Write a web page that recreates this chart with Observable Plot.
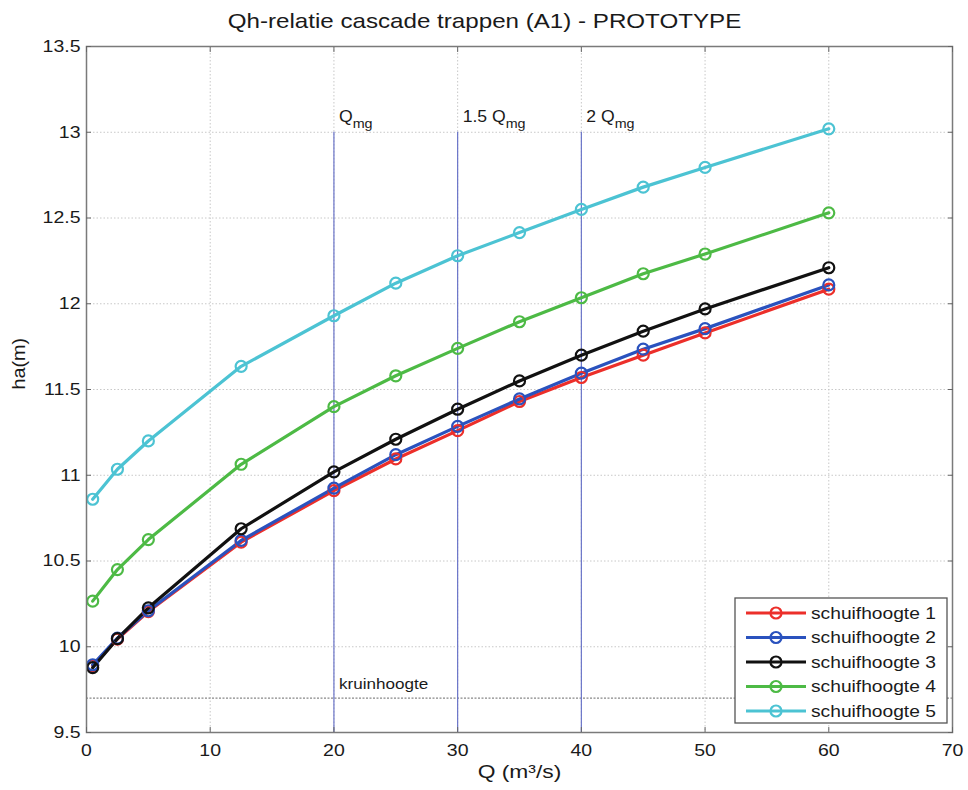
<!DOCTYPE html>
<html>
<head>
<meta charset="utf-8">
<script src="https://cdn.jsdelivr.net/npm/d3@7"></script>
<script src="https://cdn.jsdelivr.net/npm/@observablehq/plot@0.6"></script>
<style>
  html, body { margin: 0; padding: 0; background: #fff; }
</style>
</head>
<body>
<div id="chart"></div>
<script>
const title = "Qh-relatie cascade trappen (A1) - PROTOTYPE";
const xLabel = "Q (m³/s)";
const yLabel = "ha(m)";
const Q = [0.5, 2.5, 5, 12.5, 20, 25, 30, 35, 40, 45, 50, 60];
const h1 = [9.89, 10.045, 10.205, 10.61, 10.91, 11.095, 11.26, 11.43, 11.57, 11.70, 11.83, 12.085];
const h2 = [9.895, 10.05, 10.21, 10.62, 10.925, 11.12, 11.285, 11.445, 11.595, 11.735, 11.855, 12.11];
const h3 = [9.878, 10.047, 10.227, 10.688, 11.02, 11.21, 11.385, 11.55, 11.70, 11.84, 11.97, 12.21];
const h4 = [10.266, 10.45, 10.625, 11.064, 11.40, 11.58, 11.74, 11.895, 12.035, 12.175, 12.29, 12.53];
const h5 = [10.86, 11.035, 11.20, 11.635, 11.93, 12.12, 12.28, 12.415, 12.55, 12.68, 12.795, 13.02];
const seriesNames = ["schuifhoogte 1", "schuifhoogte 2", "schuifhoogte 3", "schuifhoogte 4", "schuifhoogte 5"];
const seriesColors = ["#ec2f2a", "#2a52be", "#111111", "#4dba45", "#4cc3d3"];
const seriesValues = [h1, h2, h3, h4, h5];
const xTicks = [0, 10, 20, 30, 40, 50, 60, 70];
const yTicks = [9.5, 10, 10.5, 11, 11.5, 12, 12.5, 13, 13.5];
const qmgX = [20, 30, 40];
const qmgPrefix = ["Q", "1.5 Q", "2 Q"];
const qmgTop = 13;
const crest = 9.7;
const crestLabel = "kruinhoogte";

const data = seriesValues.flatMap((vals, i) =>
  vals.map((v, j) => ({ series: seriesNames[i], Q: Q[j], h: v }))
);

const FONT = "'Liberation Sans', Arial, sans-serif";
const gridStyle = { stroke: "#c8c8c8", strokeOpacity: 1, strokeDasharray: "1.5,2" };

const marks = [
  Plot.gridX(xTicks, gridStyle),
  Plot.gridY(yTicks, gridStyle),
  Plot.ruleY([crest], { stroke: "#888", strokeWidth: 1.2, strokeDasharray: "2,1.5" }),
  Plot.ruleX(qmgX, { y1: 9.5, y2: qmgTop, stroke: "#6a74c8", strokeWidth: 1.2 }),
  Plot.text(qmgX.map((x, i) => ({ x, t: qmgPrefix[i] })), {
    x: "x", y: () => qmgTop, text: "t", dx: 5, dy: -15, textAnchor: "start",
    fontSize: 16, fill: "#1a1a1a", className: "qmg"
  }),
  Plot.text([crestLabel], {
    x: () => 20, y: () => crest, text: d => d, dx: 5, dy: -14, textAnchor: "start",
    fontSize: 14, fill: "#1a1a1a", className: "crest"
  }),
  ...seriesNames.map((name, i) => Plot.line(data.filter(d => d.series === name), {
    x: "Q", y: "h", stroke: seriesColors[i], strokeWidth: 3.2
  })),
  ...seriesNames.map((name, i) => Plot.dot(data.filter(d => d.series === name), {
    x: "Q", y: "h", stroke: seriesColors[i], r: 5.5, strokeWidth: 2.2, fill: "none"
  })),
  Plot.frame({ stroke: "#7a7a7a", strokeWidth: 1.5 }),
  Plot.axisX(xTicks, { anchor: "bottom", tickSize: -5, tickPadding: 17, label: null, fontSize: 16.5, stroke: "#666", fill: "#1a1a1a", className: "tick" }),
  Plot.axisX(xTicks, { anchor: "top", tickSize: -5, tickFormat: () => "", label: null, stroke: "#666" }),
  Plot.axisY(yTicks, { anchor: "left", tickSize: -5, tickPadding: 11, label: null, fontSize: 16.5, stroke: "#666", fill: "#1a1a1a", tickFormat: d => String(d), className: "tick" }),
  Plot.axisY(yTicks, { anchor: "right", tickSize: -5, tickFormat: () => "", label: null, stroke: "#666" }),
  Plot.text([title], { frameAnchor: "top", lineAnchor: "middle", text: d => d, dx: -35, dy: -25, fontSize: 21, fill: "#1a1a1a", className: "ttl" }),
  Plot.text([xLabel], { frameAnchor: "bottom", lineAnchor: "middle", text: d => d, dy: 39, fontSize: 19, fill: "#1a1a1a", className: "xl" }),
  Plot.text([yLabel], { frameAnchor: "left", lineAnchor: "middle", text: d => d, dx: -67, rotate: -90, fontSize: 18, fill: "#1a1a1a", className: "yl" })
];

const svg = Plot.plot({
  width: 968,
  height: 790,
  marginTop: 46,
  marginBottom: 58,
  marginLeft: 86,
  marginRight: 16,
  x: { domain: [0, 70] },
  y: { domain: [9.5, 13.5] },
  style: { fontFamily: FONT, background: "#fff", color: "#1a1a1a" },
  marks
});

// subscripts for Qmg labels
d3.select(svg).selectAll("g.qmg text").each(function () {
  const t = d3.select(this);
  const base = t.text();
  t.text("");
  t.append("tspan").text(base);
  t.append("tspan").attr("dy", "0.4em").attr("font-size", "13").text("mg");
});

// legend box
const lx = 735, ly = 598, lw = 212, lh = 125;
const g = d3.select(svg).append("g").attr("font-family", FONT).attr("class", "legend");
g.append("rect").attr("x", lx).attr("y", ly).attr("width", lw).attr("height", lh)
  .attr("fill", "#fff").attr("stroke", "#555").attr("stroke-width", 1.3);
seriesNames.forEach((name, i) => {
  const yy = ly + 15 + i * 24.5;
  g.append("line").attr("x1", lx + 11).attr("x2", lx + 71).attr("y1", yy).attr("y2", yy)
    .attr("stroke", seriesColors[i]).attr("stroke-width", 3.2);
  g.append("circle").attr("cx", lx + 41).attr("cy", yy).attr("r", 5.5)
    .attr("fill", "none").attr("stroke", seriesColors[i]).attr("stroke-width", 2.2);
  g.append("text").attr("x", lx + 76).attr("y", yy).attr("dy", "0.35em")
    .attr("text-anchor", "start").attr("font-size", 16).attr("fill", "#1a1a1a").text(name);
});

document.getElementById("chart").appendChild(svg);

// the reference typography is horizontally wide; stretch glyphs to match
function stretch(selector, factor) {
  d3.select(svg).selectAll(selector).each(function () {
    const len = this.getComputedTextLength();
    if (len > 0) {
      this.setAttribute("textLength", (len * factor).toFixed(1));
      this.setAttribute("lengthAdjust", "spacingAndGlyphs");
    }
  });
}
stretch("g.tick text", 1.18);
stretch("g.ttl text", 1.15);
stretch("g.xl text", 1.2);
stretch("g.yl text", 1.1);
stretch("g.crest text", 1.22);
stretch("g.legend text", 1.2);
stretch("g.qmg text", 1.1);
</script>
</body>
</html>
